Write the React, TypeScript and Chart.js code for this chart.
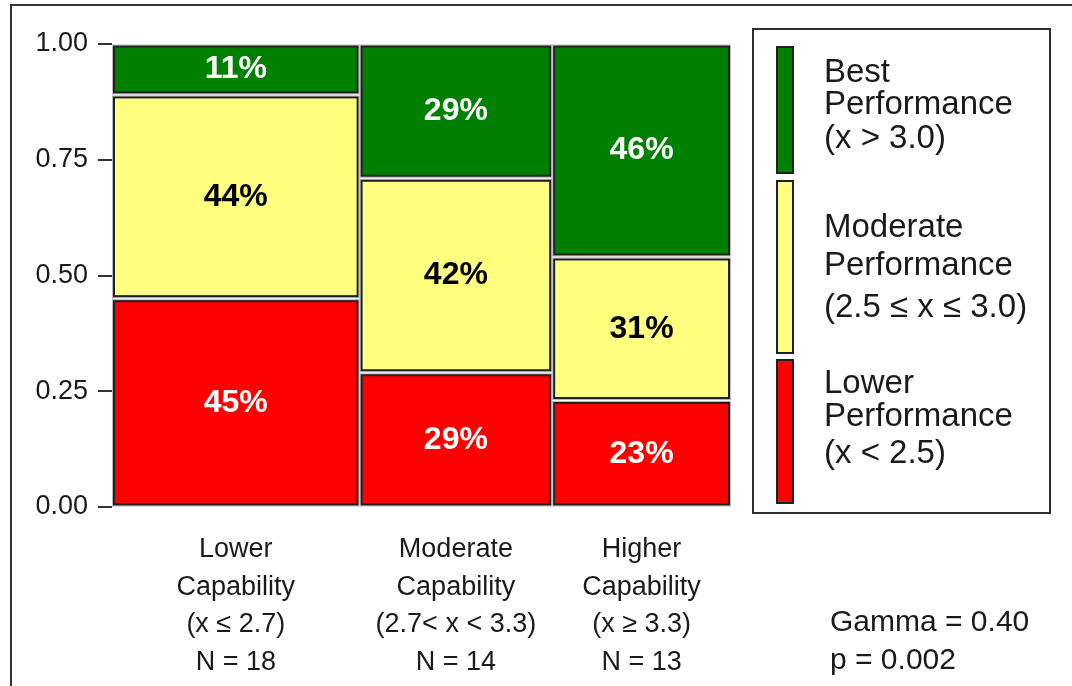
import React, { useEffect, useRef } from 'react';
import { Chart, registerables } from 'chart.js';

Chart.register(...registerables);

// ---- Data ----
const capabilityGroups = ['Lower Capability', 'Moderate Capability', 'Higher Capability'];
const capabilityRanges = ['(x ≤ 2.7)', '(2.7< x < 3.3)', '(x ≥ 3.3)'];
const groupN = [18, 14, 13];

// proportions within each capability group (bottom → top)
const lowerPerformance = [0.45, 0.29, 0.23];
const moderatePerformance = [0.44, 0.42, 0.31];
const bestPerformance = [0.11, 0.29, 0.46];

const yTicks = [0, 0.25, 0.5, 0.75, 1];

const legendTitles = [
  ['Best', 'Performance', '(x > 3.0)'],
  ['Moderate', 'Performance', '(2.5 ≤ x ≤ 3.0)'],
  ['Lower', 'Performance', '(x < 2.5)'],
];

const gammaText = 'Gamma = 0.40';
const pText = 'p = 0.002';

// ---- Styles ----
const COLORS = { best: '#008000', moderate: '#FFFF80', lower: '#FF0000' };
const TEXT = '#1a1a1a';
const FONT = "'Liberation Sans', Arial, sans-serif";

const segmentSeries = [
  { values: lowerPerformance, color: COLORS.lower, text: '#ffffff' },
  { values: moderatePerformance, color: COLORS.moderate, text: '#000000' },
  { values: bestPerformance, color: COLORS.best, text: '#ffffff' },
];

const totalN = groupN.reduce((a, b) => a + b, 0);
const groupStarts = groupN.map((_, i) => groupN.slice(0, i).reduce((a, b) => a + b, 0));
const groupCenters = groupN.map((n, i) => groupStarts[i] + n / 2);

function drawBox(ctx: CanvasRenderingContext2D, x0: number, y0: number, x1: number, y1: number, fill: string) {
  ctx.save();
  ctx.strokeStyle = '#b8b8b8';
  ctx.lineWidth = 1;
  ctx.strokeRect(x0 - 1.5, y0 - 1.5, x1 - x0 + 3, y1 - y0 + 3);
  ctx.fillStyle = fill;
  ctx.fillRect(x0, y0, x1 - x0, y1 - y0);
  ctx.strokeStyle = '#202020';
  ctx.lineWidth = 2;
  ctx.strokeRect(x0, y0, x1 - x0, y1 - y0);
  ctx.restore();
}

const mosaicPlugin = {
  id: 'mosaic',
  beforeDraw(chart: any) {
    const ctx: CanvasRenderingContext2D = chart.ctx;
    ctx.save();
    ctx.fillStyle = '#ffffff';
    ctx.fillRect(0, 0, chart.width, chart.height);
    ctx.strokeStyle = '#333333';
    ctx.lineWidth = 2;
    ctx.beginPath();
    ctx.moveTo(chart.width + 5, 5);
    ctx.lineTo(11, 5);
    ctx.lineTo(11, chart.height + 5);
    ctx.stroke();
    ctx.restore();
  },
  afterDatasetsDraw(chart: any) {
    const ctx: CanvasRenderingContext2D = chart.ctx;
    const xs = chart.scales.x;
    const ys = chart.scales.y;
    const gapX = 2;
    const gapY = 2.5;
    groupN.forEach((n, gi) => {
      const px0 = xs.getPixelForValue(groupStarts[gi]) + gapX;
      const px1 = xs.getPixelForValue(groupStarts[gi] + n) - gapX;
      let cum = 0;
      segmentSeries.forEach((s) => {
        const v = s.values[gi];
        const pyBottom = ys.getPixelForValue(cum) - gapY;
        const pyTop = ys.getPixelForValue(cum + v) + gapY;
        cum += v;
        drawBox(ctx, px0, pyTop, px1, pyBottom, s.color);
        ctx.save();
        ctx.fillStyle = s.text;
        ctx.font = `bold 32px ${FONT}`;
        ctx.textAlign = 'center';
        ctx.textBaseline = 'middle';
        ctx.fillText(`${Math.round(v * 100)}%`, (px0 + px1) / 2, (pyTop + pyBottom) / 2);
        ctx.restore();
      });
    });

    // Legend
    ctx.save();
    ctx.strokeStyle = '#303030';
    ctx.lineWidth = 2;
    ctx.strokeRect(753, 29, 297, 484);
    const legendBars = [
      { color: COLORS.best, y0: 47, y1: 173, baselines: [82, 114, 148] },
      { color: COLORS.moderate, y0: 181, y1: 353, baselines: [237, 275, 317] },
      { color: COLORS.lower, y0: 360, y1: 503, baselines: [393, 426, 463] },
    ];
    legendBars.forEach((b, i) => {
      ctx.fillStyle = b.color;
      ctx.fillRect(777, b.y0, 16, b.y1 - b.y0);
      ctx.strokeStyle = '#202020';
      ctx.lineWidth = 2;
      ctx.strokeRect(777, b.y0, 16, b.y1 - b.y0);
      ctx.fillStyle = TEXT;
      ctx.font = `33px ${FONT}`;
      ctx.textAlign = 'left';
      ctx.textBaseline = 'alphabetic';
      legendTitles[i].forEach((line, li) => ctx.fillText(line, 824, b.baselines[li]));
    });

    // Statistics
    ctx.font = `30px ${FONT}`;
    ctx.textBaseline = 'middle';
    ctx.fillText(gammaText, 830, 623);
    ctx.fillText(pText, 830, 661);
    ctx.restore();
  },
};

export default function App() {
  const canvasRef = useRef<HTMLCanvasElement | null>(null);

  useEffect(() => {
    if (!canvasRef.current) return;
    const chart = new Chart(canvasRef.current, {
      type: 'scatter',
      data: { datasets: [] },
      options: {
        animation: false,
        responsive: false,
        devicePixelRatio: 1,
        layout: { padding: { left: 8, right: 341, top: 44, bottom: 9 } },
        plugins: { legend: { display: false }, tooltip: { enabled: false } },
        scales: {
          x: {
            type: 'linear',
            position: 'bottom',
            min: 0,
            max: totalN,
            grid: { display: false },
            border: { display: false },
            afterBuildTicks: (axis: any) => {
              axis.ticks = groupCenters.map((value) => ({ value }));
            },
            afterFit: (axis: any) => {
              axis.height = 170;
            },
            ticks: {
              autoSkip: false,
              maxRotation: 0,
              padding: 16,
              color: TEXT,
              font: { family: FONT, size: 27, lineHeight: 37.5 / 27 },
              callback: (_v: any, i: number) => [
                ...capabilityGroups[i].split(' '),
                capabilityRanges[i],
                `N = ${groupN[i]}`,
              ],
            },
          },
          y: {
            type: 'linear',
            min: 0,
            max: 1,
            afterBuildTicks: (axis: any) => {
              axis.ticks = yTicks.map((value) => ({ value }));
            },
            afterFit: (axis: any) => {
              axis.width = 104;
            },
            grid: {
              drawOnChartArea: false,
              drawTicks: true,
              tickLength: 14,
              color: '#333333',
              lineWidth: 2,
            },
            border: { display: false },
            ticks: {
              padding: 10,
              color: TEXT,
              font: { family: FONT, size: 27 },
              callback: (v: any) => Number(v).toFixed(2),
            },
          },
        },
      },
      plugins: [mosaicPlugin],
    });
    return () => chart.destroy();
  }, []);

  return (
    <div style={{ position: 'absolute', left: 0, top: 0, width: 1072, height: 686, background: '#fff' }}>
      <canvas ref={canvasRef} width={1072} height={686} />
    </div>
  );
}
